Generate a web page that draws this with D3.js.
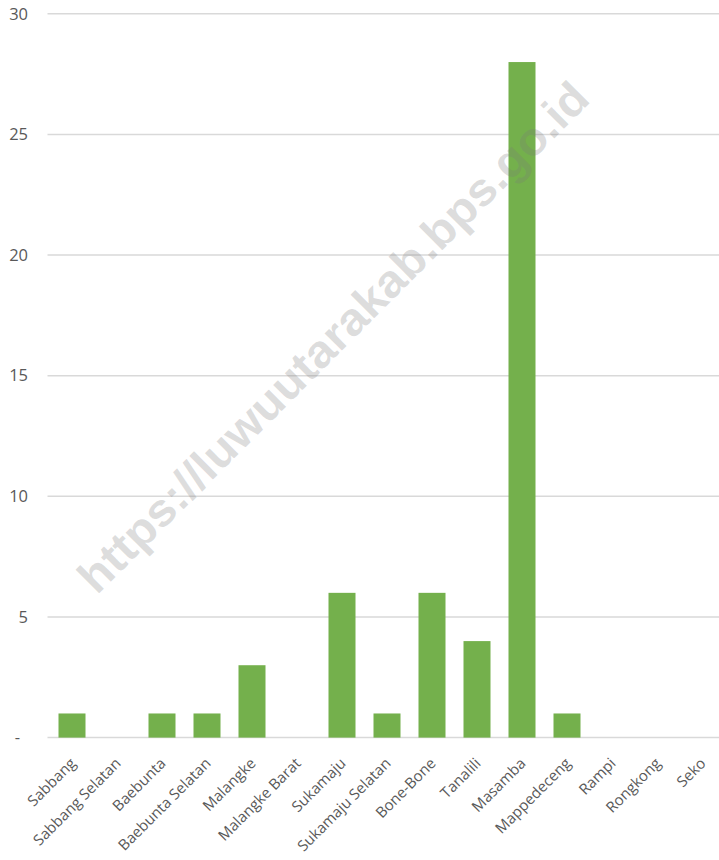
<!DOCTYPE html>
<html>
<head>
<meta charset="utf-8">
<script src="https://cdn.jsdelivr.net/npm/d3@7"></script>
<style>
  html, body { margin: 0; padding: 0; background: #fff; }
  svg { display: block; }
</style>
</head>
<body>
<svg id="chart" width="719" height="860"></svg>
<script>
// Districts (kecamatan) and their counts
const categories = [
  "Sabbang", "Sabbang Selatan", "Baebunta", "Baebunta Selatan", "Malangke",
  "Malangke Barat", "Sukamaju", "Sukamaju Selatan", "Bone-Bone", "Tanalili",
  "Masamba", "Mappedeceng", "Rampi", "Rongkong", "Seko"
];
const values = [1, 0, 1, 1, 3, 0, 6, 1, 6, 4, 28, 1, 0, 0, 0];
const yTicks = [0, 5, 10, 15, 20, 25, 30];
const watermark = "https://luwuutarakab.bps.go.id";

const svg = d3.select("#chart");
const W = 719, H = 860;
const plotLeft = 49.5, plotRight = 724.5, plotTop = 13.8, plotBottom = 737.6;

const x = d3.scaleBand().domain(categories).range([plotLeft, plotRight]).paddingInner(0.4).paddingOuter(0.2);
const y = d3.scaleLinear().domain([0, 30]).range([plotBottom, plotTop]);

const textColor = "#595959";
const font = "'Open Sans', 'Liberation Sans', sans-serif";

// horizontal gridlines
svg.append("g")
  .selectAll("line")
  .data(yTicks)
  .join("line")
  .attr("x1", plotLeft - 2)
  .attr("x2", W)
  .attr("y1", d => y(d))
  .attr("y2", d => y(d))
  .attr("stroke", "#d9d9d9")
  .attr("stroke-width", 1.5);

// y axis labels (zero drawn as a dash, accounting style)
const yAxis = d3.axisLeft(y)
  .tickValues(yTicks)
  .tickSize(0)
  .tickPadding(0)
  .tickFormat(d => d === 0 ? "-" : d);
svg.append("g")
  .attr("transform", "translate(28,0)")
  .call(yAxis)
  .call(g => g.select(".domain").remove())
  .selectAll("text")
  .attr("fill", textColor)
  .attr("x", d => d === 0 ? -8 : 0)
  .style("font-family", font)
  .style("font-size", "16.5px");

// bars
svg.append("g")
  .selectAll("rect")
  .data(values.map((v, i) => ({ name: categories[i], v })))
  .join("rect")
  .attr("x", d => x(d.name))
  .attr("width", x.bandwidth())
  .attr("y", d => y(d.v))
  .attr("height", d => y(0) - y(d.v))
  .attr("fill", "#74b04c");

// x axis category labels, rotated
const xAxis = d3.axisBottom(x).tickSize(0).tickPadding(0);
const gx = svg.append("g")
  .attr("transform", `translate(0,${plotBottom})`)
  .call(xAxis);
gx.select(".domain").remove();
gx.selectAll("text")
  .attr("fill", textColor)
  .style("font-family", font)
  .style("font-size", "15px")
  .attr("text-anchor", "end")
  .attr("dy", "0.35em")
  .attr("y", 0)
  .attr("transform", "translate(1,23) rotate(-45)");

// site watermark on top
svg.append("text")
  .attr("transform", "translate(333,337) rotate(-45)")
  .attr("text-anchor", "middle")
  .attr("dominant-baseline", "central")
  .attr("textLength", 700)
  .attr("lengthAdjust", "spacingAndGlyphs")
  .attr("fill", "#7a7a7a")
  .attr("fill-opacity", 0.26)
  .style("font-family", "'Liberation Sans', Arial, sans-serif")
  .style("font-weight", "bold")
  .style("font-size", "46px")
  .text(watermark);
</script>
</body>
</html>
